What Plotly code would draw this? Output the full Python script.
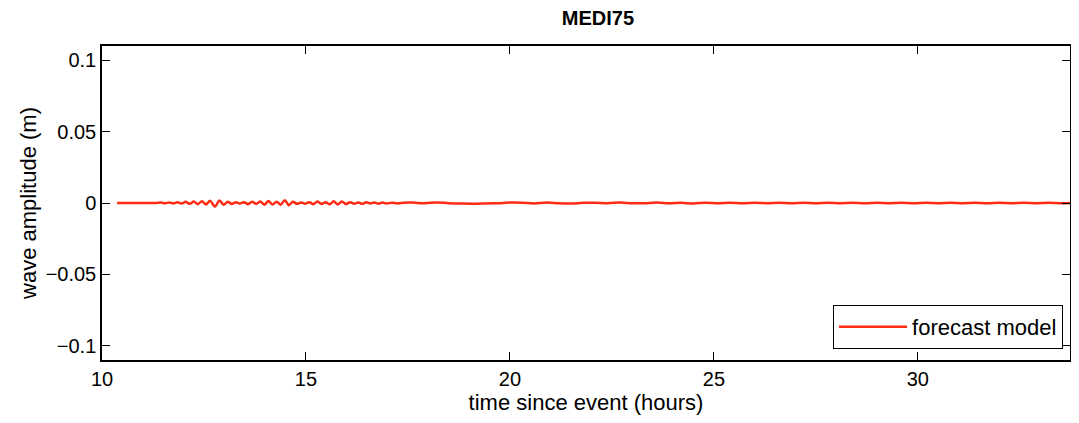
import plotly.graph_objects as go

# station / labels
station = "MEDI75"
series_name = "forecast model"

# time since event (hours) and wave amplitude (m)
t_start = [10.37, 11.30]
a_start = [0.0, 0.0]

t_wave = [11.45, 11.55, 11.65, 11.75, 11.85, 11.95, 12.05, 12.15, 12.25, 12.35,
          12.45, 12.55, 12.65, 12.77, 12.88, 12.98, 13.08, 13.18, 13.28, 13.38,
          13.48, 13.58, 13.68, 13.78, 13.88, 13.98, 14.08, 14.18, 14.28, 14.38,
          14.48, 14.58, 14.68, 14.78, 14.88, 14.98, 15.08, 15.18, 15.28, 15.38,
          15.48, 15.58, 15.68, 15.78, 15.88, 15.98, 16.08, 16.18, 16.28, 16.38,
          16.48, 16.58, 16.68, 16.78, 16.88, 16.98, 17.10, 17.25, 17.40]
a_wave = [0.0003, -0.0002, 0.0004, -0.0003, 0.0005, -0.0004, 0.0008, -0.0006, 0.0010, -0.0008,
          0.0012, -0.0010, 0.0015, -0.0025, 0.0018, -0.0012, 0.0008, -0.0006, 0.0005, -0.0004,
          0.0006, -0.0008, 0.0009, -0.0006, 0.0010, -0.0012, 0.0014, -0.0010, 0.0009, -0.0012,
          0.0020, -0.0015, 0.0008, -0.0006, 0.0004, -0.0005, 0.0006, -0.0008, 0.0010, -0.0007,
          0.0005, -0.0009, 0.0012, -0.0010, 0.0011, -0.0008, 0.0006, -0.0005, 0.0004, -0.0006,
          0.0005, -0.0003, 0.0004, -0.0005, 0.0003, -0.0004, 0.0002, -0.0003, 0.0002]

t_tail = [17.6, 17.9, 18.2, 18.5, 18.8, 19.1, 19.4, 19.7, 20.0, 20.3,
          20.6, 20.9, 21.2, 21.5, 21.8, 22.1, 22.4, 22.7, 23.0, 23.3,
          23.6, 23.9, 24.2, 24.5, 24.8, 25.1, 25.4, 25.7, 26.0, 26.3,
          26.6, 26.9, 27.2, 27.5, 27.8, 28.1, 28.4, 28.7, 29.0, 29.3,
          29.6, 29.9, 30.2, 30.5, 30.8, 31.1, 31.4, 31.7, 32.0, 32.3,
          32.6, 32.9, 33.2, 33.5, 33.8]
a_tail = [0.0003, -0.0002, 0.0004, -0.0001, -0.0004, -0.0005, -0.0003, -0.0001, 0.0003, 0.0002,
          -0.0003, 0.0004, -0.0002, -0.0004, 0.0001, 0.0002, -0.0001, 0.0003, -0.0002, -0.0001,
          0.0003, -0.0002, 0.0001, -0.0003, 0.0002, -0.0001, 0.0002, -0.0002, 0.0001, -0.0001,
          0.0002, -0.0002, 0.0001, -0.0002, 0.0002, -0.0001, 0.0001, -0.0002, 0.0002, -0.0001,
          0.0001, -0.0002, 0.0001, -0.0001, 0.0002, -0.0001, 0.0001, -0.0002, 0.0001, -0.0001,
          0.0002, -0.0001, 0.0001, -0.0001, 0.0001]

y_ticks = [-0.1, -0.05, 0, 0.05, 0.1]
y_labels = ["\u22120.1", "\u22120.05", "0", "0.05", "0.1"]
x_ticks = [10, 15, 20, 25, 30]

t = t_start + t_wave + t_tail
amp = a_start + a_wave + a_tail

font = "Liberation Sans, Arial, Helvetica, sans-serif"

fig = go.Figure()
fig.add_trace(go.Scatter(x=t, y=amp, mode="lines", name=series_name,
                         line=dict(color="#ff2a12", width=2.5, shape="spline", smoothing=0.8)))

axis_common = dict(showline=True, linecolor="black", linewidth=1.5, mirror="ticks",
                   ticks="inside", ticklen=8, tickwidth=1, tickcolor="black",
                   showgrid=False, zeroline=False, automargin=False,
                   tickfont=dict(family=font, size=20, color="black"))

# page body adds 8px around the figure, keep it inside the window (no scrollbars)
fig.update_layout(
    width=1063, height=410,
    margin=dict(l=94, r=1, t=38, b=58),
    paper_bgcolor="white", plot_bgcolor="white",
    font=dict(family=font, size=22, color="black"),
    title=dict(text="<b>" + station + "</b>", x=0.555, xanchor="center",
               y=0.9756, yanchor="middle", font=dict(family=font, size=20, color="black")),
    xaxis=dict(axis_common, range=[10, 33.73], tickvals=x_ticks,
               title=dict(text="time since event (hours)", standoff=0,
                          font=dict(family=font, size=22))),
    yaxis=dict(axis_common, range=[-0.11, 0.11], tickvals=y_ticks, ticktext=y_labels,
               title=dict(text="wave amplitude (m)", standoff=3,
                          font=dict(family=font, size=22))),
    showlegend=True,
    legend=dict(x=0.9928, y=0.035, xanchor="right", yanchor="bottom",
                bgcolor="white", bordercolor="black", borderwidth=1,
                font=dict(family=font, size=22, color="black"), itemwidth=68),
)

fig.write_html("out.html")
